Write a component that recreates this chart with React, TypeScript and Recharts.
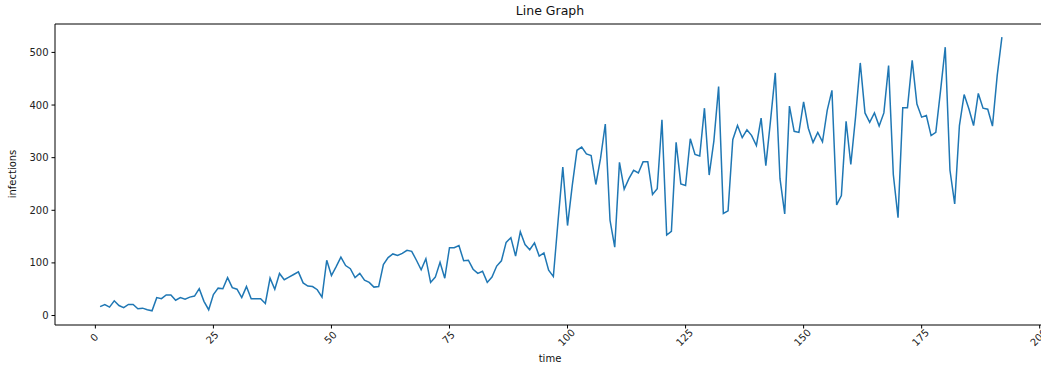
import { LineChart, Line, XAxis, YAxis } from 'recharts'

const infections = [
  17, 21, 16, 28, 19, 15, 21, 21, 13, 14, 11, 9, 34, 32, 39, 39, 29, 34, 31, 35,
  37, 51, 27, 11, 40, 52, 51, 72, 53, 50, 34, 55, 32, 32, 32, 23, 71, 50, 80, 68,
  73, 78, 83, 62, 56, 55, 49, 35, 105, 76, 93, 111, 95, 89, 72, 80, 67, 63, 54, 55,
  97, 110, 117, 114, 118, 124, 122, 105, 87, 108, 63, 73, 101, 71, 129, 129, 133, 104, 105, 88,
  80, 84, 63, 73, 94, 104, 139, 148, 113, 159, 135, 125, 138, 113, 119, 86, 74, 180, 282, 171,
  247, 314, 320, 307, 304, 249, 299, 364, 181, 130, 291, 240, 260, 276, 271, 292, 292, 230, 241, 372,
  153, 160, 329, 250, 247, 336, 306, 303, 394, 267, 332, 435, 194, 199, 334, 361, 338, 353, 342, 323,
  375, 285, 371, 461, 260, 193, 398, 350, 348, 406, 356, 329, 348, 330, 390, 428, 210, 228, 369, 287,
  377, 480, 385, 367, 385, 360, 385, 475, 268, 186, 395, 395, 485, 402, 377, 380, 342, 348, 427, 510,
  276, 212, 361, 420, 393, 361, 422, 394, 392, 360, 456, 529,
]
const time = infections.map((_, i) => i + 1)

const xTicks = [0, 25, 50, 75, 100, 125, 150, 175, 200]
const yTicks = [0, 100, 200, 300, 400, 500]

const data = time.map((t, i) => ({ time: t, infections: infections[i] }))

const font = '"DejaVu Sans", sans-serif'

function RotatedTick({ x, y, payload }: any) {
  const cx = x - 1
  const cy = y + 7
  return (
    <text
      x={cx}
      y={cy}
      transform={`rotate(-45, ${cx}, ${cy})`}
      textAnchor="middle"
      dominantBaseline="central"
      fontSize={10}
      fill="#222"
      fontFamily={font}
    >
      {payload.value}
    </text>
  )
}

export default function App() {
  return (
    <div
      style={{
        position: 'absolute',
        left: 0,
        top: 0,
        width: 1041,
        height: 370,
        overflow: 'hidden',
        background: '#fff',
        fontFamily: font,
      }}
    >
      <LineChart
        width={1070}
        height={370}
        data={data}
        margin={{ top: 23, right: 22, bottom: 0, left: 0 }}
        style={{ position: 'absolute', left: 0, top: 0 }}
      >
        <XAxis
          dataKey="time"
          type="number"
          domain={[-8.55, 201.55]}
          ticks={xTicks}
          allowDataOverflow
          height={45}
          tickSize={3.5}
          stroke="#000"
          tickLine={{ stroke: '#000' }}
          tick={<RotatedTick />}
          interval={0}
        />
        <XAxis
          xAxisId="top"
          orientation="top"
          dataKey="time"
          type="number"
          domain={[-8.55, 201.55]}
          height={1}
          tick={false}
          tickLine={false}
          stroke="#000"
        />
        <YAxis
          type="number"
          domain={[-18, 554]}
          ticks={yTicks}
          allowDataOverflow
          width={55}
          tickSize={3.5}
          tickMargin={3}
          stroke="#000"
          tickLine={{ stroke: '#000' }}
          tick={{ fontSize: 10, fill: '#222', fontFamily: font }}
          interval={0}
        />
        <YAxis yAxisId="right" orientation="right" width={1} tick={false} tickLine={false} stroke="#000" />
        <Line
          type="linear"
          dataKey="infections"
          stroke="#1f77b4"
          strokeWidth={1.5}
          dot={false}
          isAnimationActive={false}
        />
      </LineChart>
      <div style={{ position: 'absolute', left: 0, top: 3, width: 1100, textAlign: 'center', fontSize: 12.5, color: '#111' }}>
        Line Graph
      </div>
      <div style={{ position: 'absolute', left: 0, top: 353, width: 1100, textAlign: 'center', fontSize: 10, color: '#111' }}>
        time
      </div>
      <div
        style={{
          position: 'absolute',
          left: 12,
          top: 174,
          fontSize: 10,
          color: '#111',
          transform: 'translate(-50%, -50%) rotate(-90deg)',
          whiteSpace: 'nowrap',
        }}
      >
        infections
      </div>
    </div>
  )
}
